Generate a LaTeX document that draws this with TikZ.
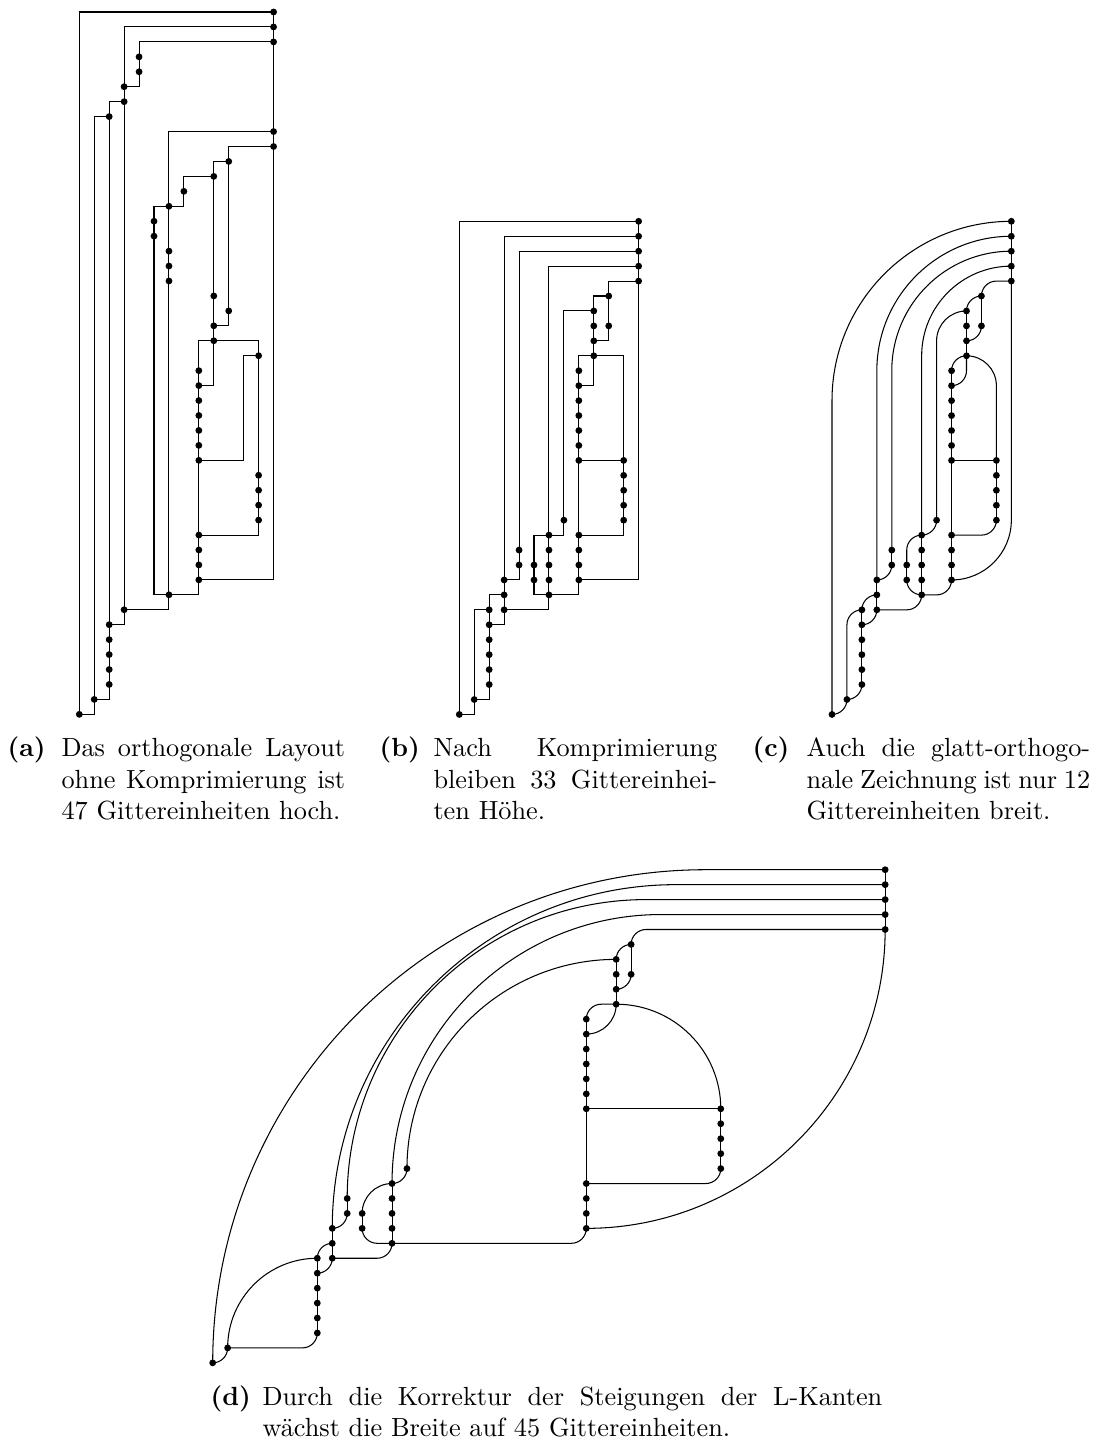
\documentclass[tikz,border=0pt]{standalone}
\usepackage{fontspec}
\begin{document}
\begin{tikzpicture}[x=0.3808pt,y=-0.3808pt,
  font=\fontsize{10}{12}\selectfont,
  dot/.style={circle,fill=black,inner sep=0pt,minimum size=2.6pt},
  edge/.style={line width=0.4pt},
  rc/.style={rounded corners=#1*5.69pt},
  capline/.style={anchor=base west,inner sep=0pt}]
\useasboundingbox (0,0) rectangle (1094,1443);

% ================= (a) =================
\begin{scope}[shift={(79.3,12)},x=0.2cm,y=-0.2cm]
\foreach \c/\r in {13/0,13/1,13/2,4/3,4/4,3/5,3/6,2/7,13/8,13/9,10/10,9/11,7/12,6/13,5/14,5/15,6/16,6/17,6/18,9/19,10/20,9/21,9/22,12/23,8/24,8/25,8/26,8/27,8/28,8/29,8/30,12/31,12/32,12/33,12/34,8/35,8/36,8/37,8/38,6/39,3/40,2/41,2/42,2/43,2/44,2/45,1/46,0/47}
  \node[dot] (a-\c-\r) at (\c,\r) {};
\draw[edge] (a-13-0.center) -- (a-13-9.center);
\draw[edge] (a-13-0.center) -| (a-0-47.center);
\draw[edge] (a-13-1.center) -| (a-3-5.center);
\draw[edge] (a-13-2.center) -| (a-4-3.center);
\draw[edge] (a-13-8.center) -| (a-6-13.center);
\draw[edge] (a-13-9.center) -| (a-10-10.center);
\draw[edge] (a-10-10.center) -| (a-9-11.center);
\draw[edge] (a-9-11.center) -| (a-7-12.center);
\draw[edge] (a-10-10.center) -- (a-10-20.center);
\draw[edge] (a-10-20.center) |- (a-9-21.center);
\draw[edge] (a-9-11.center) -- (a-9-22.center);
\draw[edge] (a-9-22.center) -| (a-8-24.center);
\draw[edge] (a-9-22.center) -| (a-12-23.center);
\draw[edge] (a-9-22.center) |- (a-8-25.center);
\draw[edge] (a-8-24.center) -- (a-8-38.center);
\draw[edge] (a-12-23.center) -- ++(-1,0) |- (a-8-30.center);
\draw[edge] (a-12-23.center) -- (a-12-34.center);
\draw[edge] (a-12-34.center) |- (a-8-35.center);
\draw[edge] (a-13-9.center) |- (a-8-38.center);
\draw[edge] (a-7-12.center) |- (a-6-13.center);
\draw[edge] (a-6-13.center) -| (a-5-14.center);
\draw[edge] (a-5-14.center) -- (a-5-15.center);
\draw[edge] (a-5-15.center) |- (a-6-39.center);
\draw[edge] (a-8-38.center) |- (a-6-39.center);
\draw[edge] (a-6-13.center) -- (a-6-39.center);
\draw[edge] (a-6-39.center) |- (a-3-40.center);
\draw[edge] (a-4-3.center) -- (a-4-4.center);
\draw[edge] (a-4-4.center) |- (a-3-5.center);
\draw[edge] (a-3-5.center) -- (a-3-40.center);
\draw[edge] (a-3-6.center) -| (a-2-7.center);
\draw[edge] (a-2-7.center) -| (a-1-46.center);
\draw[edge] (a-3-40.center) |- (a-2-41.center);
\draw[edge] (a-2-7.center) -- (a-2-45.center);
\draw[edge] (a-2-45.center) |- (a-1-46.center);
\draw[edge] (a-1-46.center) |- (a-0-47.center);
\end{scope}

% ================= (b) =================
\begin{scope}[shift={(459.3,221.3)},x=0.2cm,y=-0.2cm]
\foreach \c/\r in {12/0,12/1,12/2,12/3,12/4,10/5,10/7,9/6,9/7,9/8,9/9,8/10,8/11,8/12,8/13,8/14,8/15,8/16,8/21,8/22,8/23,8/24,11/16,11/17,11/18,11/19,11/20,7/20,6/21,6/22,6/23,6/24,6/25,4/22,4/23,5/23,5/24,3/24,3/25,3/26,2/26,2/27,2/28,2/29,2/30,2/31,1/32,0/33}
  \node[dot] (b-\c-\r) at (\c,\r) {};
\draw[edge] (b-12-0.center) -- (b-12-4.center);
\draw[edge] (b-12-0.center) -| (b-0-33.center);
\draw[edge] (b-12-1.center) -| (b-3-24.center);
\draw[edge] (b-12-2.center) -| (b-4-22.center);
\draw[edge] (b-12-3.center) -| (b-6-21.center);
\draw[edge] (b-12-4.center) -| (b-10-5.center);
\draw[edge] (b-10-5.center) -| (b-9-6.center);
\draw[edge] (b-9-6.center) -| (b-7-20.center);
\draw[edge] (b-10-5.center) -- (b-10-7.center);
\draw[edge] (b-10-7.center) |- (b-9-8.center);
\draw[edge] (b-9-6.center) -- (b-9-9.center);
\draw[edge] (b-9-9.center) -| (b-8-10.center);
\draw[edge] (b-9-9.center) -| (b-11-16.center);
\draw[edge] (b-9-9.center) |- (b-8-11.center);
\draw[edge] (b-8-10.center) -- (b-8-24.center);
\draw[edge] (b-8-16.center) -- (b-11-16.center);
\draw[edge] (b-11-16.center) -- (b-11-20.center);
\draw[edge] (b-11-20.center) |- (b-8-21.center);
\draw[edge] (b-12-4.center) |- (b-8-24.center);
\draw[edge] (b-7-20.center) |- (b-6-21.center);
\draw[edge] (b-6-21.center) -| (b-5-23.center);
\draw[edge] (b-5-23.center) -- (b-5-24.center);
\draw[edge] (b-5-24.center) |- (b-6-25.center);
\draw[edge] (b-8-24.center) |- (b-6-25.center);
\draw[edge] (b-6-21.center) -- (b-6-25.center);
\draw[edge] (b-6-25.center) |- (b-3-26.center);
\draw[edge] (b-4-22.center) -- (b-4-23.center);
\draw[edge] (b-4-23.center) |- (b-3-24.center);
\draw[edge] (b-3-24.center) -- (b-3-26.center);
\draw[edge] (b-3-25.center) -| (b-2-26.center);
\draw[edge] (b-2-26.center) -| (b-1-32.center);
\draw[edge] (b-3-26.center) |- (b-2-27.center);
\draw[edge] (b-2-26.center) -- (b-2-31.center);
\draw[edge] (b-2-31.center) |- (b-1-32.center);
\draw[edge] (b-1-32.center) |- (b-0-33.center);
\end{scope}

% ================= (c) =================
\begin{scope}[shift={(832,221.3)},x=0.2cm,y=-0.2cm]
\foreach \c/\r in {12/0,12/1,12/2,12/3,12/4,10/5,10/7,9/6,9/7,9/8,9/9,8/10,8/11,8/12,8/13,8/14,8/15,8/16,8/21,8/22,8/23,8/24,11/16,11/17,11/18,11/19,11/20,7/20,6/21,6/22,6/23,6/24,6/25,4/22,4/23,5/23,5/24,3/24,3/25,3/26,2/26,2/27,2/28,2/29,2/30,2/31,1/32,0/33}
  \node[dot] (c-\c-\r) at (\c,\r) {};
\draw[edge] (c-12-0.center) -- (c-12-4.center);
\draw[edge,rc=12] (c-12-0.center) -| (c-0-33.center);
\draw[edge,rc=9] (c-12-1.center) -| (c-3-24.center);
\draw[edge,rc=8] (c-12-2.center) -| (c-4-22.center);
\draw[edge,rc=6] (c-12-3.center) -| (c-6-21.center);
\draw[edge,rc=1] (c-12-4.center) -| (c-10-5.center);
\draw[edge,rc=1] (c-10-5.center) -| (c-9-6.center);
\draw[edge,rc=2] (c-9-6.center) -| (c-7-20.center);
\draw[edge] (c-10-5.center) -- (c-10-7.center);
\draw[edge,rc=1] (c-10-7.center) |- (c-9-8.center);
\draw[edge] (c-9-6.center) -- (c-9-9.center);
\draw[edge,rc=1] (c-9-9.center) -| (c-8-10.center);
\draw[edge,rc=2] (c-9-9.center) -| (c-11-16.center);
\draw[edge,rc=1] (c-9-9.center) |- (c-8-11.center);
\draw[edge] (c-8-10.center) -- (c-8-24.center);
\draw[edge] (c-8-16.center) -- (c-11-16.center);
\draw[edge] (c-11-16.center) -- (c-11-20.center);
\draw[edge,rc=1] (c-11-20.center) |- (c-8-21.center);
\draw[edge,rc=4] (c-12-4.center) |- (c-8-24.center);
\draw[edge,rc=1] (c-7-20.center) |- (c-6-21.center);
\draw[edge,rc=1] (c-6-21.center) -| (c-5-23.center);
\draw[edge] (c-5-23.center) -- (c-5-24.center);
\draw[edge,rc=1] (c-5-24.center) |- (c-6-25.center);
\draw[edge,rc=1] (c-8-24.center) |- (c-6-25.center);
\draw[edge] (c-6-21.center) -- (c-6-25.center);
\draw[edge,rc=1] (c-6-25.center) |- (c-3-26.center);
\draw[edge] (c-4-22.center) -- (c-4-23.center);
\draw[edge,rc=1] (c-4-23.center) |- (c-3-24.center);
\draw[edge] (c-3-24.center) -- (c-3-26.center);
\draw[edge,rc=1] (c-3-25.center) -| (c-2-26.center);
\draw[edge,rc=1] (c-2-26.center) -| (c-1-32.center);
\draw[edge,rc=1] (c-3-26.center) |- (c-2-27.center);
\draw[edge] (c-2-26.center) -- (c-2-31.center);
\draw[edge,rc=1] (c-2-31.center) |- (c-1-32.center);
\draw[edge,rc=1] (c-1-32.center) |- (c-0-33.center);
\end{scope}

% ================= (d) =================
\begin{scope}[shift={(212.7,869.7)},x=0.2cm,y=-0.2cm]
\foreach \c/\r in {45/0,45/1,45/2,45/3,45/4,28/5,28/7,27/6,27/7,27/8,27/9,25/10,25/11,25/12,25/13,25/14,25/15,25/16,25/21,25/22,25/23,25/24,34/16,34/17,34/18,34/19,34/20,13/20,12/21,12/22,12/23,12/24,12/25,9/22,9/23,10/23,10/24,8/24,8/25,8/26,7/26,7/27,7/28,7/29,7/30,7/31,1/32,0/33}
  \node[dot] (d-\c-\r) at (\c,\r) {};
\draw[edge] (d-45-0.center) -- (d-45-4.center);
\draw[edge,rc=33] (d-45-0.center) -| (d-0-33.center);
\draw[edge,rc=23] (d-45-1.center) -| (d-8-24.center);
\draw[edge,rc=20] (d-45-2.center) -| (d-9-22.center);
\draw[edge,rc=18] (d-45-3.center) -| (d-12-21.center);
\draw[edge,rc=1] (d-45-4.center) -| (d-28-5.center);
\draw[edge,rc=1] (d-28-5.center) -| (d-27-6.center);
\draw[edge,rc=14] (d-27-6.center) -| (d-13-20.center);
\draw[edge] (d-28-5.center) -- (d-28-7.center);
\draw[edge,rc=1] (d-28-7.center) |- (d-27-8.center);
\draw[edge] (d-27-6.center) -- (d-27-9.center);
\draw[edge,rc=1] (d-27-9.center) -| (d-25-10.center);
\draw[edge,rc=7] (d-27-9.center) -| (d-34-16.center);
\draw[edge,rc=2] (d-27-9.center) |- (d-25-11.center);
\draw[edge] (d-25-10.center) -- (d-25-24.center);
\draw[edge] (d-25-16.center) -- (d-34-16.center);
\draw[edge] (d-34-16.center) -- (d-34-20.center);
\draw[edge,rc=1] (d-34-20.center) |- (d-25-21.center);
\draw[edge,rc=20] (d-45-4.center) |- (d-25-24.center);
\draw[edge,rc=1] (d-13-20.center) |- (d-12-21.center);
\draw[edge,rc=2] (d-12-21.center) -| (d-10-23.center);
\draw[edge] (d-10-23.center) -- (d-10-24.center);
\draw[edge,rc=1] (d-10-24.center) |- (d-12-25.center);
\draw[edge,rc=1] (d-25-24.center) |- (d-12-25.center);
\draw[edge] (d-12-21.center) -- (d-12-25.center);
\draw[edge,rc=1] (d-12-25.center) |- (d-8-26.center);
\draw[edge] (d-9-22.center) -- (d-9-23.center);
\draw[edge,rc=1] (d-9-23.center) |- (d-8-24.center);
\draw[edge] (d-8-24.center) -- (d-8-26.center);
\draw[edge,rc=1] (d-8-25.center) -| (d-7-26.center);
\draw[edge,rc=6] (d-7-26.center) -| (d-1-32.center);
\draw[edge,rc=1] (d-8-26.center) |- (d-7-27.center);
\draw[edge] (d-7-26.center) -- (d-7-31.center);
\draw[edge,rc=1] (d-7-31.center) |- (d-1-32.center);
\draw[edge,rc=1] (d-1-32.center) |- (d-0-33.center);
\end{scope}

% ================= captions =================
\node[capline] (capa) at (7,756.7) {\textbf{(a)}};
\node[capline] (capa1) at (61,756.7) {\makebox[108pt][s]{Das orthogonale Layout}};
\node[capline] (capa2) at (61,788.2) {\makebox[108pt][s]{ohne Komprimierung ist}};
\node[capline] (capa3) at (61,819.7) {47 Gittereinheiten hoch.};

\node[capline] (capb) at (379,756.7) {\textbf{(b)}};
\node[capline] (capb1) at (433,756.7) {\makebox[108pt][s]{Nach Komprimierung}};
\node[capline] (capb2) at (433,788.2) {\makebox[108pt][s]{bleiben 33 Gittereinhei-}};
\node[capline] (capb3) at (433,819.7) {ten Höhe.};

\node[capline] (capc) at (752,756.7) {\textbf{(c)}};
\node[capline] (capc1) at (806,756.7) {\makebox[108pt][s]{Auch die glatt-orthogo-}};
\node[capline] (capc2) at (806,788.2) {\makebox[108pt][s]{nale Zeichnung ist nur 12}};
\node[capline] (capc3) at (806,819.7) {Gittereinheiten breit.};

\node[capline] (capd) at (210,1405) {\textbf{(d)}};
\node[capline] (capd1) at (262,1405) {\makebox[236pt][s]{Durch die Korrektur der Steigungen der L-Kanten}};
\node[capline] (capd2) at (262,1436.5) {wächst die Breite auf 45 Gittereinheiten.};
\end{tikzpicture}
\end{document}
